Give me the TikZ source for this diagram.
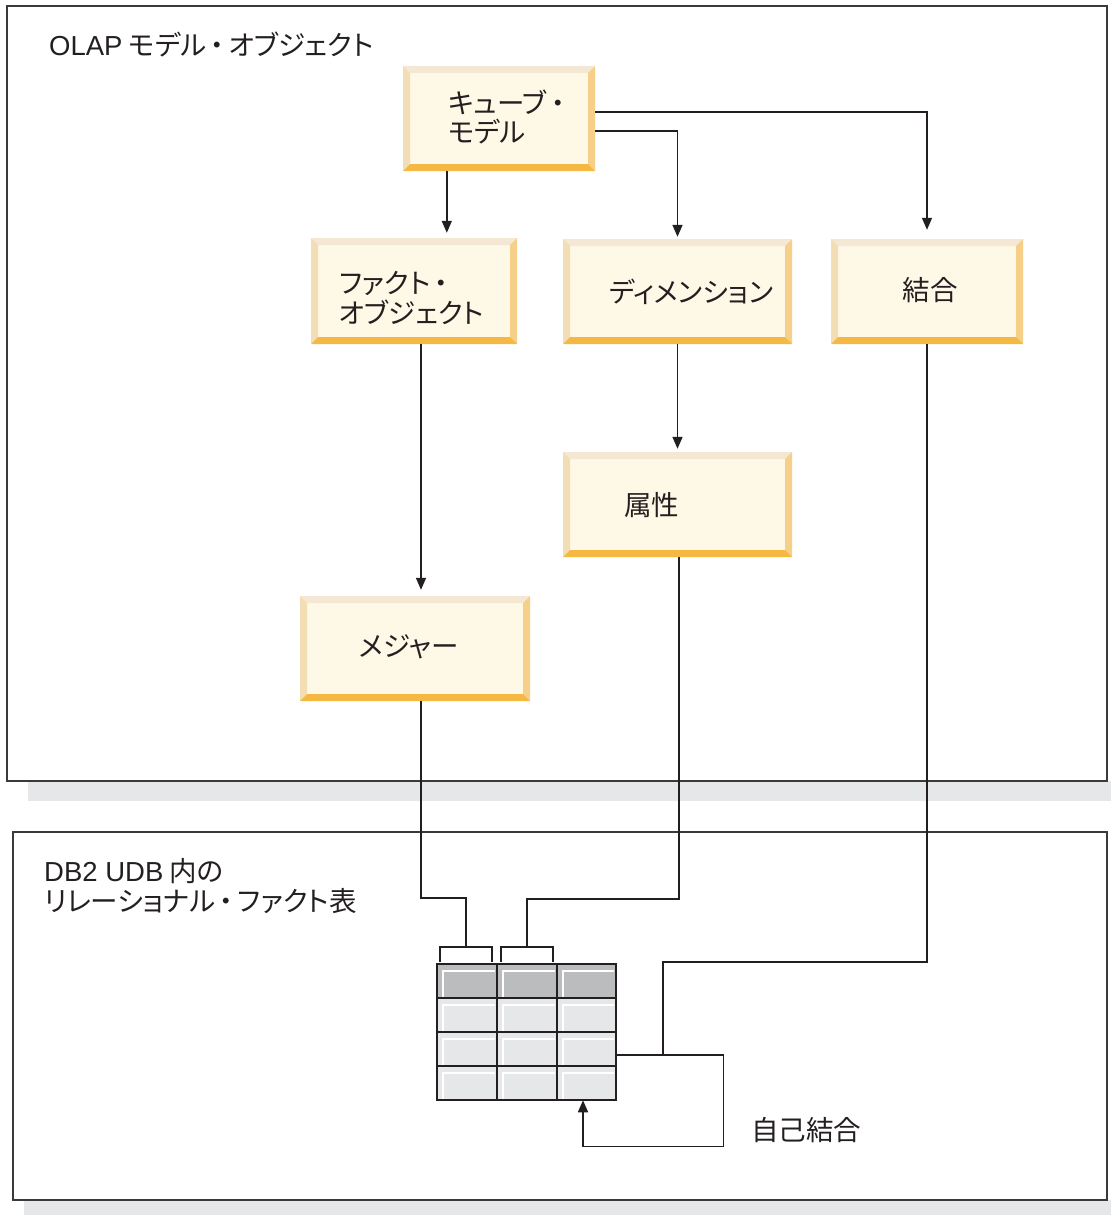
\documentclass[tikz,border=0pt]{standalone}
\usepackage{fontspec}
\setmainfont{Noto Sans CJK JP}[RawFeature={+palt}]
\newfontfamily\lat{Liberation Sans}
\newfontfamily\cjkfull{Noto Sans CJK JP}
\newcommand\nkdot{\hspace{-2.5pt}{\cjkfull ・}\hspace{-2.5pt}}
\usetikzlibrary{arrows.meta,calc}
\definecolor{ink}{HTML}{231F20}
\definecolor{framec}{HTML}{3A3A3A}
\definecolor{shadowc}{HTML}{E6E7E8}
\definecolor{bfill}{HTML}{FEF8E6}
\definecolor{btop}{HTML}{F4E8D4}
\definecolor{bleft}{HTML}{F3DDB4}
\definecolor{bright}{HTML}{F6CF88}
\definecolor{bbottom}{HTML}{F5B843}
\definecolor{thead}{HTML}{BBBCBE}
\definecolor{tcell}{HTML}{E6E7E8}
\tikzset{
  txt/.style={inner sep=0pt, text=ink, font=\fontsize{27.5}{29.5}\selectfont, align=left},
  conn/.style={draw=ink, line width=1.5pt},
  arr/.style={conn, -{Triangle[length=12pt,width=10pt]}},
  frame/.style={draw=framec, line width=1.6pt},
  bevelbox/.style={rectangle, inner sep=0pt, fill=bfill,
    path picture={
      \fill[btop] (path picture bounding box.north west) -- (path picture bounding box.north east)
        -- ([shift={(-7pt,-7pt)}]path picture bounding box.north east)
        -- ([shift={(7pt,-7pt)}]path picture bounding box.north west) -- cycle;
      \fill[bleft] (path picture bounding box.north west) -- (path picture bounding box.south west)
        -- ([shift={(7pt,7pt)}]path picture bounding box.south west)
        -- ([shift={(7pt,-7pt)}]path picture bounding box.north west) -- cycle;
      \fill[bright] (path picture bounding box.north east) -- (path picture bounding box.south east)
        -- ([shift={(-7pt,7pt)}]path picture bounding box.south east)
        -- ([shift={(-7pt,-7pt)}]path picture bounding box.north east) -- cycle;
      \fill[bbottom] (path picture bounding box.south west) -- (path picture bounding box.south east)
        -- ([shift={(-7pt,7pt)}]path picture bounding box.south east)
        -- ([shift={(7pt,7pt)}]path picture bounding box.south west) -- cycle;
    }},
  hilite/.style={draw=white, line width=1.5pt},
  gridl/.style={draw=ink, line width=1.2pt}
}
\begin{document}
\begin{tikzpicture}[x=1pt,y=-1pt]
\useasboundingbox (0,0) rectangle (1111,1215);
% shadows and frames
\fill[shadowc] (28,781) rectangle (1111,801);
\fill[shadowc] (24,1200) rectangle (1111,1215);
\draw[frame] (7,6) rectangle (1107,781);
\draw[frame] (13,832) rectangle (1107,1200);
\node[txt, anchor=west] (title) at (49,45) {{\lat OLAP} モデル\nkdot オブジェクト};
\node[txt, anchor=west] (db) at (44,886) {{\lat DB2 UDB} 内の\\リレーショナル\nkdot ファクト表};

% beveled boxes
\node[bevelbox, minimum width=192pt, minimum height=105pt] (cube) at (499,118.5) {};
\node[bevelbox, minimum width=206pt, minimum height=106pt] (fact) at (414,291) {};
\node[bevelbox, minimum width=229pt, minimum height=105pt] (dim) at (677.5,291.5) {};
\node[bevelbox, minimum width=192pt, minimum height=105pt] (join) at (927,291.5) {};
\node[bevelbox, minimum width=229pt, minimum height=105pt] (attr) at (677.5,504.5) {};
\node[bevelbox, minimum width=230pt, minimum height=105pt] (meas) at (415,648.5) {};

\node[txt, anchor=west] (cubet) at (448,117) {キューブ\nkdot\\モデル};
\node[txt, anchor=west] (factt) at (339,298) {ファクト\nkdot\\オブジェクト};
\node[txt, anchor=west] (dimt) at (609,291.5) {ディメンション};
\node[txt] (joint) at (930,290) {結合};
\node[txt, anchor=west] (attrt) at (624,505) {属性};
\node[txt, anchor=west] (meast) at (359,647) {メジャー};
\node[txt, anchor=west] (selft) at (751,1130) {自己結合};

% table
\fill[thead] (437,964) rectangle (616,998);
\fill[tcell] (437,998) rectangle (616,1100);
\foreach \xa/\xb in {437/497,497/557,557/616}
  \foreach \ya/\yb in {964/998,998/1032,1032/1066,1066/1100}
    \draw[hilite] (\xa+6,\yb) -- (\xa+6,\ya+7) -- (\xb-2,\ya+7);
\draw[gridl] (497,964) -- (497,1100);
\draw[gridl] (557,964) -- (557,1100);
\draw[gridl, line width=1.6pt] (437,998) -- (616,998);
\draw[gridl] (437,1032) -- (616,1032);
\draw[gridl] (437,1066) -- (616,1066);
\node[draw=ink, line width=2.5pt, minimum width=179pt, minimum height=136pt, inner sep=0pt] (tbl) at (526.5,1032) {};

% brackets
\coordinate (b1) at (466,947);
\coordinate (b2) at (527,947);
\draw[conn] (440,962) -- (440,947) -- (492,947) -- (492,962);
\draw[conn] (501,962) -- (501,947) -- (553,947) -- (553,962);

% connectors
\coordinate (c1) at ([xshift=44pt]cube.south west);
\draw[arr, shorten >=5pt] (c1) -- (c1 |- fact.north);
\coordinate (c2) at ([yshift=-12.5pt]cube.east);
\draw[arr, shorten >=2pt] (c2) -| (dim.north);
\coordinate (c3) at ([yshift=6.5pt]cube.east);
\draw[arr, shorten >=9pt] (c3) -| (join.north);
\coordinate (c4) at ([xshift=7pt]fact.south);
\draw[arr, shorten >=6pt] (c4) -- (c4 |- meas.north);
\draw[arr, shorten >=3pt] (dim.south) -- (attr.north);
\coordinate (c6) at ([xshift=6pt]meas.south);
\draw[conn] (c6) |- ([yshift=49pt]b1) -- (b1);
\coordinate (c7) at ([xshift=1.5pt]attr.south);
\draw[conn] (c7) |- ([yshift=48pt]b2) -- (b2);
\coordinate (sj) at (663,1055);
\draw[conn] (join.south) |- ([yshift=93pt]sj) -- (sj);
\coordinate (s0) at ([yshift=-23pt]tbl.east);
\coordinate (s1) at ([xshift=56.5pt]tbl.south);
\draw[arr, shorten >=-1pt] (s0) -- ++(106,0) |- ([yshift=-45pt]s1) -- (s1);
\end{tikzpicture}
\end{document}
